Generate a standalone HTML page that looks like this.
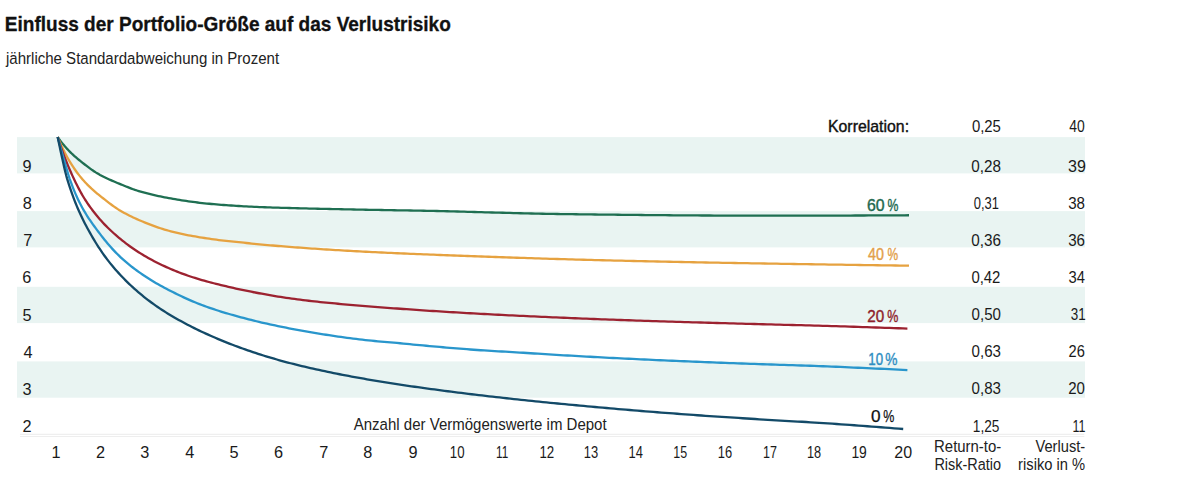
<!DOCTYPE html><html><head><meta charset="utf-8"><style>html,body{margin:0;padding:0;background:#fff;width:1200px;height:482px;overflow:hidden}svg{display:block}text{font-family:"Liberation Sans",sans-serif}</style></head><body>
<svg width="1200" height="482" viewBox="0 0 1200 482">
<rect x="17" y="137.10" width="1068" height="36.3" fill="#e9f4f2"/>
<rect x="17" y="211.10" width="1068" height="36.3" fill="#e9f4f2"/>
<rect x="17" y="286.80" width="1068" height="36.3" fill="#e9f4f2"/>
<rect x="17" y="361.40" width="1068" height="36.3" fill="#e9f4f2"/>
<rect x="20" y="433.8" width="1064.3" height="0.9" fill="#e9e9e9"/>
<rect x="20" y="436.0" width="1064.3" height="0.9" fill="#ececec"/>
<text x="4.84" y="30.80" font-size="19.80" fill="#111" textLength="445.99" lengthAdjust="spacingAndGlyphs" font-weight="bold" stroke="#111" stroke-width="0.3">Einfluss der Portfolio-Größe auf das Verlustrisiko</text>
<text x="6.00" y="64.40" font-size="16.80" fill="#222" textLength="273.06" lengthAdjust="spacingAndGlyphs">jährliche Standardabweichung in Prozent</text>
<text x="22.50" y="431.80" font-size="16.30" fill="#1a1a1a">2</text>
<text x="22.50" y="394.70" font-size="16.30" fill="#1a1a1a">3</text>
<text x="23.50" y="357.60" font-size="16.30" fill="#1a1a1a">4</text>
<text x="22.50" y="320.50" font-size="16.30" fill="#1a1a1a">5</text>
<text x="22.30" y="283.40" font-size="16.30" fill="#1a1a1a">6</text>
<text x="23.30" y="246.30" font-size="16.30" fill="#1a1a1a">7</text>
<text x="22.70" y="209.20" font-size="16.30" fill="#1a1a1a">8</text>
<text x="22.40" y="172.10" font-size="16.30" fill="#1a1a1a">9</text>
<text x="51.50" y="458.00" font-size="16.30" fill="#1a1a1a">1</text>
<text x="96.12" y="458.00" font-size="16.30" fill="#1a1a1a">2</text>
<text x="140.23" y="458.00" font-size="16.30" fill="#1a1a1a">3</text>
<text x="185.35" y="458.00" font-size="16.30" fill="#1a1a1a">4</text>
<text x="229.46" y="458.00" font-size="16.30" fill="#1a1a1a">5</text>
<text x="274.08" y="458.00" font-size="16.30" fill="#1a1a1a">6</text>
<text x="319.19" y="458.00" font-size="16.30" fill="#1a1a1a">7</text>
<text x="363.31" y="458.00" font-size="16.30" fill="#1a1a1a">8</text>
<text x="408.43" y="458.00" font-size="16.30" fill="#1a1a1a">9</text>
<text x="449.83" y="458.00" font-size="16.30" fill="#1a1a1a" textLength="14.71" lengthAdjust="spacingAndGlyphs">10</text>
<text x="496.04" y="458.00" font-size="16.30" fill="#1a1a1a" textLength="12.17" lengthAdjust="spacingAndGlyphs">11</text>
<text x="539.40" y="458.00" font-size="16.30" fill="#1a1a1a" textLength="14.84" lengthAdjust="spacingAndGlyphs">12</text>
<text x="583.85" y="458.00" font-size="16.30" fill="#1a1a1a" textLength="14.39" lengthAdjust="spacingAndGlyphs">13</text>
<text x="628.46" y="458.00" font-size="16.30" fill="#1a1a1a" textLength="14.39" lengthAdjust="spacingAndGlyphs">14</text>
<text x="673.36" y="458.00" font-size="16.30" fill="#1a1a1a" textLength="13.86" lengthAdjust="spacingAndGlyphs">15</text>
<text x="717.69" y="458.00" font-size="16.30" fill="#1a1a1a" textLength="14.39" lengthAdjust="spacingAndGlyphs">16</text>
<text x="762.93" y="458.00" font-size="16.30" fill="#1a1a1a" textLength="13.93" lengthAdjust="spacingAndGlyphs">17</text>
<text x="807.04" y="458.00" font-size="16.30" fill="#1a1a1a" textLength="14.18" lengthAdjust="spacingAndGlyphs">18</text>
<text x="851.43" y="458.00" font-size="16.30" fill="#1a1a1a" textLength="15.41" lengthAdjust="spacingAndGlyphs">19</text>
<text x="894.37" y="458.00" font-size="16.30" fill="#1a1a1a" textLength="17.81" lengthAdjust="spacingAndGlyphs">20</text>
<text x="353.75" y="429.70" font-size="16.90" fill="#222" textLength="252.87" lengthAdjust="spacingAndGlyphs">Anzahl der Vermögenswerte im Depot</text>
<text x="827.97" y="132.20" font-size="17.00" fill="#111" textLength="81.11" lengthAdjust="spacingAndGlyphs" stroke="#111" stroke-width="0.4">Korrelation:</text>
<text x="971.88" y="132.10" font-size="16.30" fill="#1a1a1a" textLength="29.06" lengthAdjust="spacingAndGlyphs">0,25</text>
<text x="1069.30" y="132.10" font-size="16.30" fill="#1a1a1a" textLength="15.51" lengthAdjust="spacingAndGlyphs">40</text>
<text x="971.36" y="171.90" font-size="16.30" fill="#1a1a1a" textLength="29.70" lengthAdjust="spacingAndGlyphs">0,28</text>
<text x="1068.11" y="171.90" font-size="16.30" fill="#1a1a1a" textLength="17.90" lengthAdjust="spacingAndGlyphs">39</text>
<text x="973.81" y="208.99" font-size="16.30" fill="#1a1a1a" textLength="25.15" lengthAdjust="spacingAndGlyphs">0,31</text>
<text x="1068.17" y="208.99" font-size="16.30" fill="#1a1a1a" textLength="16.85" lengthAdjust="spacingAndGlyphs">38</text>
<text x="971.36" y="246.08" font-size="16.30" fill="#1a1a1a" textLength="29.70" lengthAdjust="spacingAndGlyphs">0,36</text>
<text x="1068.17" y="246.08" font-size="16.30" fill="#1a1a1a" textLength="16.85" lengthAdjust="spacingAndGlyphs">36</text>
<text x="971.38" y="283.17" font-size="16.30" fill="#1a1a1a" textLength="29.06" lengthAdjust="spacingAndGlyphs">0,42</text>
<text x="1068.59" y="283.17" font-size="16.30" fill="#1a1a1a" textLength="16.42" lengthAdjust="spacingAndGlyphs">34</text>
<text x="971.57" y="320.26" font-size="16.30" fill="#1a1a1a" textLength="29.38" lengthAdjust="spacingAndGlyphs">0,50</text>
<text x="1070.77" y="320.26" font-size="16.30" fill="#1a1a1a" textLength="14.95" lengthAdjust="spacingAndGlyphs">31</text>
<text x="971.57" y="357.35" font-size="16.30" fill="#1a1a1a" textLength="29.38" lengthAdjust="spacingAndGlyphs">0,63</text>
<text x="1068.60" y="357.35" font-size="16.30" fill="#1a1a1a" textLength="16.31" lengthAdjust="spacingAndGlyphs">26</text>
<text x="971.57" y="394.44" font-size="16.30" fill="#1a1a1a" textLength="29.38" lengthAdjust="spacingAndGlyphs">0,83</text>
<text x="1068.18" y="394.44" font-size="16.30" fill="#1a1a1a" textLength="16.74" lengthAdjust="spacingAndGlyphs">20</text>
<text x="972.86" y="431.53" font-size="16.30" fill="#1a1a1a" textLength="26.63" lengthAdjust="spacingAndGlyphs">1,25</text>
<text x="1072.53" y="431.53" font-size="16.30" fill="#1a1a1a" textLength="12.96" lengthAdjust="spacingAndGlyphs">11</text>
<text x="934.08" y="452.00" font-size="16.30" fill="#222" textLength="67.19" lengthAdjust="spacingAndGlyphs">Return-to-</text>
<text x="934.41" y="469.70" font-size="16.30" fill="#222" textLength="66.67" lengthAdjust="spacingAndGlyphs">Risk-Ratio</text>
<text x="1035.50" y="452.00" font-size="16.30" fill="#222" textLength="49.68" lengthAdjust="spacingAndGlyphs">Verlust-</text>
<text x="1018.10" y="469.70" font-size="16.30" fill="#222" textLength="67.09" lengthAdjust="spacingAndGlyphs">risiko in %</text>
<path d="M57.70,137.00 L57.79,137.14 L57.98,137.41 L58.24,137.79 L58.55,138.24 L58.92,138.76 L59.33,139.34 L59.78,139.97 L60.28,140.64 L60.82,141.36 L61.39,142.11 L61.99,142.88 L62.64,143.69 L63.31,144.51 L64.02,145.36 L64.75,146.22 L65.52,147.10 L66.32,147.99 L67.14,148.89 L68.00,149.80 L68.88,150.72 L69.78,151.64 L70.72,152.56 L71.68,153.49 L72.66,154.41 L73.67,155.34 L74.71,156.27 L75.77,157.20 L76.85,158.13 L77.95,159.06 L79.08,159.99 L80.24,160.91 L81.41,161.85 L82.61,162.80 L83.82,163.76 L85.07,164.73 L86.33,165.71 L87.61,166.69 L88.91,167.67 L90.24,168.64 L91.58,169.60 L92.95,170.55 L94.33,171.48 L95.74,172.39 L97.17,173.26 L98.61,174.10 L100.07,174.92 L101.56,175.71 L103.06,176.49 L104.58,177.25 L106.12,178.00 L107.68,178.73 L109.26,179.45 L110.85,180.16 L112.47,180.86 L114.10,181.56 L115.75,182.25 L117.42,182.94 L119.10,183.63 L120.80,184.33 L122.52,185.05 L124.26,185.76 L126.01,186.48 L127.79,187.19 L129.57,187.89 L131.38,188.58 L133.20,189.25 L135.04,189.89 L136.90,190.49 L138.77,191.06 L140.66,191.61 L142.56,192.15 L144.48,192.67 L146.42,193.19 L148.37,193.69 L150.34,194.18 L152.32,194.66 L154.32,195.13 L156.34,195.58 L158.37,196.03 L160.41,196.46 L162.48,196.89 L164.55,197.30 L166.65,197.70 L168.75,198.09 L170.88,198.48 L173.02,198.85 L175.17,199.22 L177.34,199.59 L179.52,199.94 L181.72,200.29 L183.93,200.64 L186.15,200.97 L188.40,201.29 L190.65,201.61 L192.92,201.92 L195.21,202.21 L197.51,202.50 L199.82,202.77 L202.15,203.03 L204.49,203.28 L206.84,203.53 L209.21,203.76 L211.60,203.98 L213.99,204.20 L216.41,204.41 L218.83,204.61 L221.27,204.80 L223.72,204.99 L226.19,205.17 L228.67,205.35 L231.16,205.52 L233.67,205.69 L236.19,205.85 L238.72,206.01 L241.27,206.17 L243.83,206.32 L246.41,206.46 L248.99,206.60 L251.59,206.72 L254.21,206.84 L256.83,206.95 L259.47,207.06 L262.13,207.16 L264.79,207.26 L267.47,207.35 L270.16,207.44 L272.87,207.53 L275.58,207.61 L278.31,207.70 L281.06,207.78 L283.81,207.86 L286.58,207.94 L289.36,208.02 L292.15,208.10 L294.96,208.18 L297.78,208.26 L300.61,208.33 L303.45,208.40 L306.31,208.47 L309.17,208.54 L312.05,208.60 L314.95,208.66 L317.85,208.73 L320.77,208.79 L323.70,208.85 L326.64,208.92 L329.59,208.98 L332.56,209.05 L335.53,209.11 L338.52,209.18 L341.53,209.25 L344.54,209.32 L347.56,209.38 L350.60,209.45 L353.65,209.51 L356.71,209.57 L359.78,209.63 L362.87,209.69 L365.96,209.75 L369.07,209.80 L372.19,209.86 L375.32,209.91 L378.47,209.96 L381.62,210.02 L384.79,210.07 L387.96,210.12 L391.15,210.18 L394.35,210.23 L397.57,210.28 L400.79,210.34 L404.02,210.39 L407.27,210.45 L410.53,210.50 L413.80,210.56 L417.08,210.62 L420.37,210.68 L423.67,210.75 L426.98,210.81 L430.31,210.88 L433.65,210.95 L436.99,211.02 L440.35,211.10 L443.72,211.18 L447.10,211.26 L450.49,211.34 L453.90,211.43 L457.31,211.52 L460.73,211.61 L464.17,211.70 L467.62,211.79 L471.07,211.89 L474.54,211.99 L478.02,212.08 L481.51,212.18 L485.01,212.28 L488.52,212.38 L492.04,212.48 L495.58,212.58 L499.12,212.68 L502.68,212.77 L506.24,212.87 L509.82,212.97 L513.40,213.06 L517.00,213.16 L520.61,213.25 L524.23,213.34 L527.86,213.43 L531.49,213.51 L535.14,213.59 L538.80,213.67 L542.48,213.75 L546.16,213.82 L549.85,213.88 L553.55,213.95 L557.26,214.01 L560.99,214.06 L564.72,214.11 L568.46,214.16 L572.22,214.21 L575.98,214.26 L579.76,214.31 L583.54,214.36 L587.33,214.41 L591.14,214.45 L594.96,214.50 L598.78,214.54 L602.62,214.59 L606.46,214.63 L610.32,214.68 L614.18,214.72 L618.06,214.76 L621.95,214.80 L625.84,214.84 L629.75,214.88 L633.67,214.92 L637.59,214.96 L641.53,215.00 L645.48,215.03 L649.43,215.07 L653.40,215.11 L657.37,215.14 L661.36,215.18 L665.36,215.21 L669.36,215.25 L673.38,215.28 L677.40,215.31 L681.44,215.35 L685.49,215.38 L689.54,215.40 L693.61,215.43 L697.68,215.45 L701.76,215.48 L705.86,215.50 L709.96,215.51 L714.08,215.53 L718.20,215.55 L722.33,215.56 L726.48,215.57 L730.63,215.58 L734.79,215.59 L738.96,215.60 L743.14,215.61 L747.33,215.61 L751.53,215.62 L755.74,215.62 L759.96,215.62 L764.19,215.63 L768.43,215.63 L772.68,215.63 L776.93,215.63 L781.20,215.63 L785.48,215.63 L789.76,215.63 L794.06,215.63 L798.36,215.63 L802.68,215.63 L807.00,215.63 L811.33,215.62 L815.68,215.62 L820.03,215.61 L824.39,215.60 L828.76,215.59 L833.14,215.58 L837.53,215.57 L841.92,215.56 L846.33,215.55 L850.75,215.53 L855.17,215.52 L859.61,215.50 L864.05,215.48 L868.51,215.47 L872.97,215.45 L877.44,215.43 L881.92,215.40 L886.41,215.38 L890.91,215.36 L895.42,215.34 L899.94,215.31 L904.46,215.29 L909.00,215.26" fill="none" stroke="#1f6f52" stroke-width="2.3" stroke-linejoin="round"/>
<path d="M57.70,137.00 L57.79,137.23 L57.98,137.70 L58.24,138.33 L58.55,139.10 L58.92,139.98 L59.33,140.95 L59.78,142.02 L60.28,143.16 L60.82,144.36 L61.39,145.62 L61.99,146.94 L62.64,148.30 L63.31,149.69 L64.02,151.12 L64.75,152.58 L65.52,154.05 L66.32,155.55 L67.14,157.06 L68.00,158.57 L68.88,160.10 L69.78,161.63 L70.72,163.16 L71.68,164.69 L72.66,166.21 L73.67,167.73 L74.71,169.24 L75.77,170.74 L76.85,172.23 L77.95,173.71 L79.08,175.17 L80.24,176.62 L81.41,178.05 L82.61,179.46 L83.82,180.84 L85.07,182.21 L86.33,183.55 L87.61,184.87 L88.91,186.16 L90.24,187.44 L91.58,188.70 L92.95,189.93 L94.33,191.15 L95.74,192.36 L97.17,193.55 L98.61,194.72 L100.07,195.89 L101.56,197.06 L103.06,198.24 L104.58,199.44 L106.12,200.65 L107.68,201.87 L109.26,203.08 L110.85,204.28 L112.47,205.47 L114.10,206.64 L115.75,207.78 L117.42,208.89 L119.10,209.95 L120.80,210.96 L122.52,211.95 L124.26,212.91 L126.01,213.86 L127.79,214.78 L129.57,215.68 L131.38,216.57 L133.20,217.44 L135.04,218.29 L136.90,219.13 L138.77,219.95 L140.66,220.76 L142.56,221.56 L144.48,222.36 L146.42,223.14 L148.37,223.91 L150.34,224.66 L152.32,225.41 L154.32,226.14 L156.34,226.85 L158.37,227.55 L160.41,228.23 L162.48,228.90 L164.55,229.54 L166.65,230.16 L168.75,230.76 L170.88,231.33 L173.02,231.89 L175.17,232.42 L177.34,232.94 L179.52,233.43 L181.72,233.91 L183.93,234.38 L186.15,234.83 L188.40,235.26 L190.65,235.68 L192.92,236.09 L195.21,236.49 L197.51,236.88 L199.82,237.26 L202.15,237.63 L204.49,237.99 L206.84,238.35 L209.21,238.70 L211.60,239.05 L213.99,239.39 L216.41,239.71 L218.83,240.02 L221.27,240.32 L223.72,240.61 L226.19,240.89 L228.67,241.16 L231.16,241.43 L233.67,241.69 L236.19,241.95 L238.72,242.21 L241.27,242.47 L243.83,242.73 L246.41,242.99 L248.99,243.25 L251.59,243.52 L254.21,243.78 L256.83,244.04 L259.47,244.30 L262.13,244.55 L264.79,244.80 L267.47,245.04 L270.16,245.28 L272.87,245.52 L275.58,245.76 L278.31,245.99 L281.06,246.21 L283.81,246.44 L286.58,246.66 L289.36,246.88 L292.15,247.09 L294.96,247.31 L297.78,247.52 L300.61,247.72 L303.45,247.93 L306.31,248.13 L309.17,248.33 L312.05,248.53 L314.95,248.72 L317.85,248.91 L320.77,249.11 L323.70,249.29 L326.64,249.48 L329.59,249.67 L332.56,249.85 L335.53,250.03 L338.52,250.21 L341.53,250.39 L344.54,250.56 L347.56,250.74 L350.60,250.91 L353.65,251.08 L356.71,251.25 L359.78,251.42 L362.87,251.58 L365.96,251.74 L369.07,251.90 L372.19,252.06 L375.32,252.21 L378.47,252.36 L381.62,252.51 L384.79,252.66 L387.96,252.81 L391.15,252.95 L394.35,253.10 L397.57,253.24 L400.79,253.38 L404.02,253.52 L407.27,253.66 L410.53,253.79 L413.80,253.93 L417.08,254.06 L420.37,254.20 L423.67,254.33 L426.98,254.46 L430.31,254.59 L433.65,254.72 L436.99,254.85 L440.35,254.98 L443.72,255.11 L447.10,255.24 L450.49,255.37 L453.90,255.50 L457.31,255.63 L460.73,255.75 L464.17,255.88 L467.62,256.01 L471.07,256.13 L474.54,256.26 L478.02,256.39 L481.51,256.51 L485.01,256.64 L488.52,256.76 L492.04,256.88 L495.58,257.01 L499.12,257.13 L502.68,257.25 L506.24,257.37 L509.82,257.49 L513.40,257.62 L517.00,257.73 L520.61,257.85 L524.23,257.97 L527.86,258.09 L531.49,258.21 L535.14,258.32 L538.80,258.44 L542.48,258.55 L546.16,258.67 L549.85,258.78 L553.55,258.89 L557.26,259.00 L560.99,259.11 L564.72,259.22 L568.46,259.33 L572.22,259.44 L575.98,259.54 L579.76,259.65 L583.54,259.75 L587.33,259.85 L591.14,259.95 L594.96,260.05 L598.78,260.15 L602.62,260.25 L606.46,260.34 L610.32,260.44 L614.18,260.53 L618.06,260.62 L621.95,260.72 L625.84,260.81 L629.75,260.90 L633.67,260.99 L637.59,261.08 L641.53,261.16 L645.48,261.25 L649.43,261.34 L653.40,261.42 L657.37,261.51 L661.36,261.59 L665.36,261.67 L669.36,261.76 L673.38,261.84 L677.40,261.92 L681.44,262.00 L685.49,262.08 L689.54,262.16 L693.61,262.24 L697.68,262.32 L701.76,262.40 L705.86,262.48 L709.96,262.55 L714.08,262.63 L718.20,262.70 L722.33,262.78 L726.48,262.85 L730.63,262.93 L734.79,263.00 L738.96,263.08 L743.14,263.15 L747.33,263.22 L751.53,263.29 L755.74,263.36 L759.96,263.44 L764.19,263.51 L768.43,263.58 L772.68,263.65 L776.93,263.72 L781.20,263.79 L785.48,263.85 L789.76,263.92 L794.06,263.99 L798.36,264.06 L802.68,264.13 L807.00,264.19 L811.33,264.26 L815.68,264.33 L820.03,264.39 L824.39,264.46 L828.76,264.53 L833.14,264.59 L837.53,264.66 L841.92,264.72 L846.33,264.79 L850.75,264.85 L855.17,264.92 L859.61,264.98 L864.05,265.04 L868.51,265.11 L872.97,265.17 L877.44,265.23 L881.92,265.30 L886.41,265.36 L890.91,265.42 L895.42,265.48 L899.94,265.54 L904.46,265.60 L909.00,265.67" fill="none" stroke="#e6a240" stroke-width="2.3" stroke-linejoin="round"/>
<path d="M57.70,137.00 L57.79,137.30 L57.98,137.91 L58.24,138.73 L58.55,139.72 L58.91,140.86 L59.33,142.14 L59.78,143.53 L60.28,145.02 L60.81,146.60 L61.38,148.27 L61.99,150.00 L62.63,151.80 L63.30,153.65 L64.00,155.55 L64.74,157.49 L65.51,159.47 L66.30,161.48 L67.13,163.52 L67.98,165.58 L68.86,167.65 L69.76,169.74 L70.69,171.84 L71.65,173.96 L72.64,176.11 L73.64,178.27 L74.68,180.45 L75.73,182.63 L76.81,184.81 L77.92,186.98 L79.04,189.14 L80.19,191.29 L81.37,193.40 L82.56,195.48 L83.78,197.51 L85.01,199.50 L86.27,201.43 L87.55,203.35 L88.85,205.24 L90.18,207.11 L91.52,208.94 L92.88,210.76 L94.27,212.54 L95.67,214.31 L97.09,216.04 L98.53,217.75 L99.99,219.43 L101.48,221.09 L102.97,222.73 L104.49,224.34 L106.03,225.92 L107.59,227.48 L109.16,229.02 L110.75,230.54 L112.36,232.03 L113.99,233.50 L115.64,234.96 L117.30,236.39 L118.99,237.81 L120.68,239.21 L122.40,240.60 L124.14,241.96 L125.89,243.31 L127.65,244.64 L129.44,245.95 L131.24,247.24 L133.06,248.51 L134.90,249.76 L136.75,251.00 L138.62,252.21 L140.50,253.40 L142.40,254.58 L144.32,255.73 L146.25,256.86 L148.20,257.96 L150.16,259.05 L152.14,260.11 L154.14,261.16 L156.15,262.19 L158.18,263.20 L160.22,264.20 L162.28,265.19 L164.35,266.16 L166.44,267.11 L168.55,268.05 L170.66,268.97 L172.80,269.87 L174.95,270.76 L177.11,271.63 L179.29,272.48 L181.48,273.32 L183.69,274.13 L185.91,274.94 L188.15,275.72 L190.40,276.48 L192.67,277.23 L194.95,277.96 L197.24,278.67 L199.55,279.37 L201.87,280.05 L204.21,280.71 L206.56,281.37 L208.93,282.01 L211.31,282.63 L213.70,283.25 L216.11,283.86 L218.53,284.46 L220.96,285.06 L223.41,285.65 L225.87,286.23 L228.35,286.81 L230.84,287.39 L233.34,287.96 L235.85,288.52 L238.38,289.07 L240.93,289.62 L243.48,290.16 L246.05,290.70 L248.63,291.22 L251.23,291.74 L253.84,292.25 L256.46,292.75 L259.09,293.25 L261.74,293.74 L264.40,294.22 L267.08,294.69 L269.76,295.16 L272.46,295.62 L275.17,296.07 L277.90,296.52 L280.64,296.96 L283.39,297.38 L286.15,297.80 L288.92,298.20 L291.71,298.60 L294.51,298.98 L297.33,299.35 L300.15,299.72 L302.99,300.07 L305.84,300.42 L308.70,300.76 L311.58,301.09 L314.46,301.41 L317.36,301.72 L320.27,302.03 L323.20,302.33 L326.13,302.63 L329.08,302.92 L332.04,303.20 L335.01,303.48 L338.00,303.76 L340.99,304.03 L344.00,304.30 L347.02,304.57 L350.05,304.83 L353.09,305.10 L356.15,305.36 L359.22,305.62 L362.30,305.88 L365.39,306.13 L368.49,306.38 L371.60,306.63 L374.73,306.87 L377.86,307.11 L381.01,307.34 L384.17,307.58 L387.34,307.81 L390.53,308.04 L393.72,308.28 L396.93,308.51 L400.14,308.74 L403.37,308.98 L406.61,309.21 L409.86,309.44 L413.13,309.67 L416.40,309.90 L419.69,310.12 L422.98,310.34 L426.29,310.56 L429.61,310.78 L432.94,310.99 L436.28,311.21 L439.63,311.42 L442.99,311.63 L446.37,311.84 L449.75,312.04 L453.15,312.25 L456.56,312.45 L459.98,312.65 L463.41,312.85 L466.85,313.05 L470.30,313.24 L473.76,313.44 L477.23,313.63 L480.71,313.82 L484.21,314.01 L487.71,314.20 L491.23,314.38 L494.75,314.56 L498.29,314.75 L501.84,314.92 L505.40,315.10 L508.97,315.28 L512.55,315.45 L516.14,315.62 L519.74,315.79 L523.35,315.96 L526.97,316.13 L530.60,316.30 L534.25,316.46 L537.90,316.63 L541.56,316.79 L545.24,316.96 L548.92,317.12 L552.62,317.28 L556.32,317.44 L560.04,317.61 L563.77,317.77 L567.50,317.93 L571.25,318.08 L575.01,318.24 L578.77,318.39 L582.55,318.55 L586.34,318.70 L590.14,318.85 L593.95,319.00 L597.76,319.14 L601.59,319.29 L605.43,319.43 L609.28,319.57 L613.14,319.72 L617.01,319.86 L620.89,320.00 L624.78,320.13 L628.67,320.27 L632.58,320.40 L636.50,320.54 L640.43,320.67 L644.37,320.80 L648.32,320.93 L652.28,321.06 L656.25,321.19 L660.23,321.31 L664.22,321.44 L668.21,321.56 L672.22,321.69 L676.24,321.81 L680.27,321.93 L684.31,322.05 L688.35,322.17 L692.41,322.29 L696.48,322.41 L700.55,322.52 L704.64,322.64 L708.74,322.76 L712.84,322.87 L716.96,322.99 L721.08,323.11 L725.22,323.22 L729.36,323.34 L733.52,323.45 L737.68,323.56 L741.85,323.68 L746.04,323.79 L750.23,323.90 L754.43,324.01 L758.64,324.12 L762.86,324.23 L767.09,324.35 L771.33,324.45 L775.58,324.56 L779.84,324.67 L784.11,324.78 L788.39,324.89 L792.67,325.00 L796.97,325.10 L801.28,325.21 L805.59,325.32 L809.92,325.43 L814.25,325.55 L818.59,325.67 L822.95,325.80 L827.31,325.92 L831.68,326.05 L836.06,326.18 L840.45,326.32 L844.85,326.46 L849.26,326.60 L853.68,326.74 L858.10,326.88 L862.54,327.03 L866.98,327.18 L871.44,327.33 L875.90,327.48 L880.37,327.63 L884.85,327.78 L889.35,327.93 L893.85,328.09 L898.35,328.24 L902.87,328.40 L907.40,328.55" fill="none" stroke="#9c2230" stroke-width="2.3" stroke-linejoin="round"/>
<path d="M57.70,137.00 L57.79,137.36 L57.98,138.08 L58.24,139.06 L58.55,140.26 L58.91,141.64 L59.33,143.19 L59.78,144.88 L60.28,146.71 L60.81,148.66 L61.38,150.73 L61.99,152.89 L62.63,155.15 L63.30,157.49 L64.00,159.90 L64.74,162.42 L65.51,165.08 L66.30,167.85 L67.13,170.69 L67.98,173.54 L68.86,176.36 L69.76,179.06 L70.69,181.65 L71.65,184.22 L72.64,186.79 L73.64,189.33 L74.68,191.85 L75.73,194.34 L76.81,196.77 L77.92,199.15 L79.04,201.48 L80.19,203.76 L81.37,205.99 L82.56,208.18 L83.78,210.32 L85.01,212.42 L86.27,214.49 L87.55,216.51 L88.85,218.51 L90.18,220.47 L91.52,222.42 L92.88,224.34 L94.27,226.25 L95.67,228.16 L97.09,230.07 L98.53,231.99 L99.99,233.93 L101.48,235.86 L102.97,237.79 L104.49,239.69 L106.03,241.57 L107.59,243.43 L109.16,245.26 L110.75,247.07 L112.36,248.86 L113.99,250.61 L115.64,252.34 L117.30,254.03 L118.99,255.69 L120.68,257.31 L122.40,258.90 L124.14,260.46 L125.89,261.98 L127.65,263.47 L129.44,264.93 L131.24,266.37 L133.06,267.78 L134.90,269.16 L136.75,270.52 L138.62,271.86 L140.50,273.18 L142.40,274.49 L144.32,275.78 L146.25,277.06 L148.20,278.31 L150.16,279.55 L152.14,280.76 L154.14,281.96 L156.15,283.14 L158.18,284.30 L160.22,285.45 L162.28,286.58 L164.35,287.70 L166.44,288.80 L168.55,289.90 L170.66,290.99 L172.80,292.07 L174.95,293.14 L177.11,294.21 L179.29,295.27 L181.48,296.31 L183.69,297.35 L185.91,298.38 L188.15,299.38 L190.40,300.38 L192.67,301.35 L194.95,302.30 L197.24,303.23 L199.55,304.14 L201.87,305.02 L204.21,305.89 L206.56,306.74 L208.93,307.57 L211.31,308.39 L213.70,309.20 L216.11,309.99 L218.53,310.77 L220.96,311.53 L223.41,312.29 L225.87,313.03 L228.35,313.76 L230.84,314.48 L233.34,315.20 L235.85,315.90 L238.38,316.60 L240.93,317.29 L243.48,317.97 L246.05,318.65 L248.63,319.31 L251.23,319.97 L253.84,320.61 L256.46,321.25 L259.09,321.88 L261.74,322.51 L264.40,323.12 L267.08,323.73 L269.76,324.32 L272.46,324.91 L275.17,325.49 L277.90,326.07 L280.64,326.63 L283.39,327.19 L286.15,327.74 L288.92,328.28 L291.71,328.82 L294.51,329.35 L297.33,329.87 L300.15,330.39 L302.99,330.90 L305.84,331.41 L308.70,331.90 L311.58,332.39 L314.46,332.88 L317.36,333.36 L320.27,333.83 L323.20,334.29 L326.13,334.75 L329.08,335.20 L332.04,335.65 L335.01,336.09 L338.00,336.52 L340.99,336.94 L344.00,337.36 L347.02,337.78 L350.05,338.18 L353.09,338.58 L356.15,338.97 L359.22,339.36 L362.30,339.73 L365.39,340.08 L368.49,340.40 L371.60,340.71 L374.73,341.00 L377.86,341.28 L381.01,341.56 L384.17,341.83 L387.34,342.10 L390.53,342.37 L393.72,342.65 L396.93,342.95 L400.14,343.26 L403.37,343.57 L406.61,343.89 L409.86,344.21 L413.13,344.52 L416.40,344.83 L419.69,345.14 L422.98,345.45 L426.29,345.76 L429.61,346.07 L432.94,346.37 L436.28,346.67 L439.63,346.97 L442.99,347.26 L446.37,347.55 L449.75,347.84 L453.15,348.13 L456.56,348.41 L459.98,348.68 L463.41,348.95 L466.85,349.22 L470.30,349.48 L473.76,349.74 L477.23,349.99 L480.71,350.23 L484.21,350.46 L487.71,350.68 L491.23,350.89 L494.75,351.09 L498.29,351.29 L501.84,351.48 L505.40,351.68 L508.97,351.88 L512.55,352.09 L516.14,352.30 L519.74,352.54 L523.35,352.77 L526.97,353.01 L530.60,353.25 L534.25,353.48 L537.90,353.71 L541.56,353.94 L545.24,354.17 L548.92,354.40 L552.62,354.62 L556.32,354.84 L560.04,355.06 L563.77,355.28 L567.50,355.50 L571.25,355.71 L575.01,355.93 L578.77,356.14 L582.55,356.35 L586.34,356.56 L590.14,356.77 L593.95,356.98 L597.76,357.18 L601.59,357.39 L605.43,357.59 L609.28,357.79 L613.14,357.99 L617.01,358.18 L620.89,358.38 L624.78,358.57 L628.67,358.76 L632.58,358.95 L636.50,359.14 L640.43,359.33 L644.37,359.51 L648.32,359.69 L652.28,359.87 L656.25,360.05 L660.23,360.23 L664.22,360.41 L668.21,360.58 L672.22,360.76 L676.24,360.93 L680.27,361.10 L684.31,361.27 L688.35,361.44 L692.41,361.61 L696.48,361.77 L700.55,361.93 L704.64,362.10 L708.74,362.26 L712.84,362.42 L716.96,362.58 L721.08,362.73 L725.22,362.89 L729.36,363.04 L733.52,363.20 L737.68,363.35 L741.85,363.50 L746.04,363.65 L750.23,363.80 L754.43,363.94 L758.64,364.09 L762.86,364.24 L767.09,364.38 L771.33,364.52 L775.58,364.66 L779.84,364.80 L784.11,364.94 L788.39,365.08 L792.67,365.22 L796.97,365.35 L801.28,365.49 L805.59,365.63 L809.92,365.77 L814.25,365.93 L818.59,366.09 L822.95,366.25 L827.31,366.42 L831.68,366.59 L836.06,366.77 L840.45,366.96 L844.85,367.14 L849.26,367.34 L853.68,367.53 L858.10,367.73 L862.54,367.93 L866.98,368.13 L871.44,368.34 L875.90,368.55 L880.37,368.76 L884.85,368.97 L889.35,369.18 L893.85,369.39 L898.35,369.61 L902.87,369.82 L907.40,370.03" fill="none" stroke="#2996cc" stroke-width="2.3" stroke-linejoin="round"/>
<path d="M57.70,137.00 L57.79,137.46 L57.98,138.40 L58.23,139.66 L58.55,141.20 L58.91,142.97 L59.32,144.94 L59.77,147.10 L60.26,149.42 L60.79,151.89 L61.36,154.49 L61.97,157.21 L62.60,160.03 L63.27,163.01 L63.97,166.14 L64.71,169.37 L65.47,172.60 L66.26,175.72 L67.08,178.60 L67.93,181.35 L68.80,184.11 L69.70,186.87 L70.63,189.63 L71.58,192.39 L72.56,195.13 L73.56,197.85 L74.59,200.54 L75.64,203.21 L76.72,205.84 L77.82,208.45 L78.94,211.02 L80.08,213.56 L81.25,216.07 L82.44,218.55 L83.65,221.00 L84.88,223.42 L86.13,225.82 L87.41,228.20 L88.70,230.57 L90.02,232.92 L91.35,235.26 L92.71,237.60 L94.08,239.92 L95.48,242.23 L96.90,244.51 L98.33,246.76 L99.79,248.98 L101.26,251.18 L102.75,253.34 L104.26,255.47 L105.79,257.55 L107.34,259.60 L108.91,261.62 L110.49,263.61 L112.09,265.56 L113.71,267.48 L115.35,269.38 L117.01,271.26 L118.68,273.11 L120.37,274.95 L122.08,276.76 L123.81,278.56 L125.55,280.33 L127.31,282.08 L129.09,283.80 L130.88,285.50 L132.69,287.18 L134.51,288.83 L136.36,290.47 L138.22,292.08 L140.09,293.66 L141.98,295.23 L143.89,296.78 L145.81,298.30 L147.75,299.80 L149.71,301.29 L151.68,302.75 L153.66,304.19 L155.67,305.60 L157.68,307.00 L159.71,308.38 L161.76,309.74 L163.83,311.07 L165.90,312.39 L168.00,313.68 L170.11,314.96 L172.23,316.22 L174.37,317.46 L176.52,318.69 L178.69,319.91 L180.87,321.11 L183.07,322.30 L185.28,323.48 L187.51,324.65 L189.75,325.81 L192.00,326.96 L194.27,328.10 L196.55,329.23 L198.85,330.34 L201.16,331.43 L203.49,332.52 L205.83,333.59 L208.18,334.66 L210.55,335.71 L212.93,336.76 L215.32,337.79 L217.73,338.82 L220.16,339.84 L222.59,340.85 L225.04,341.85 L227.50,342.84 L229.98,343.81 L232.47,344.78 L234.97,345.73 L237.49,346.67 L240.02,347.60 L242.56,348.52 L245.12,349.43 L247.69,350.33 L250.27,351.21 L252.87,352.09 L255.48,352.95 L258.10,353.81 L260.73,354.65 L263.38,355.48 L266.04,356.31 L268.71,357.12 L271.40,357.92 L274.10,358.72 L276.81,359.50 L279.53,360.28 L282.27,361.04 L285.02,361.80 L287.78,362.53 L290.56,363.26 L293.34,363.98 L296.14,364.68 L298.95,365.37 L301.78,366.05 L304.61,366.73 L307.46,367.39 L310.32,368.05 L313.19,368.70 L316.08,369.35 L318.98,369.98 L321.89,370.62 L324.81,371.24 L327.74,371.86 L330.68,372.47 L333.64,373.07 L336.61,373.66 L339.59,374.25 L342.58,374.84 L345.59,375.41 L348.61,375.98 L351.63,376.54 L354.67,377.10 L357.73,377.65 L360.79,378.19 L363.86,378.73 L366.95,379.27 L370.05,379.79 L373.16,380.32 L376.28,380.83 L379.41,381.35 L382.56,381.86 L385.71,382.36 L388.88,382.86 L392.06,383.36 L395.25,383.85 L398.45,384.34 L401.66,384.83 L404.89,385.31 L408.12,385.79 L411.37,386.27 L414.63,386.74 L417.90,387.21 L421.18,387.67 L424.47,388.13 L427.77,388.58 L431.08,389.03 L434.41,389.48 L437.74,389.93 L441.09,390.37 L444.45,390.81 L447.82,391.25 L451.20,391.68 L454.59,392.12 L457.99,392.55 L461.40,392.97 L464.82,393.40 L468.26,393.82 L471.70,394.24 L475.16,394.65 L478.62,395.06 L482.10,395.47 L485.59,395.88 L489.09,396.28 L492.59,396.68 L496.11,397.08 L499.64,397.48 L503.19,397.87 L506.74,398.26 L510.30,398.65 L513.87,399.04 L517.45,399.43 L521.05,399.81 L524.65,400.19 L528.27,400.57 L531.89,400.95 L535.53,401.32 L539.17,401.69 L542.83,402.06 L546.50,402.42 L550.17,402.79 L553.86,403.15 L557.56,403.51 L561.26,403.86 L564.98,404.22 L568.71,404.57 L572.45,404.92 L576.20,405.27 L579.96,405.62 L583.73,405.97 L587.51,406.31 L591.29,406.66 L595.09,407.00 L598.90,407.34 L602.72,407.68 L606.55,408.02 L610.39,408.36 L614.24,408.69 L618.10,409.03 L621.97,409.36 L625.85,409.69 L629.74,410.01 L633.64,410.34 L637.55,410.66 L641.47,410.98 L645.40,411.30 L649.34,411.62 L653.29,411.94 L657.25,412.25 L661.22,412.56 L665.20,412.87 L669.18,413.17 L673.18,413.47 L677.19,413.77 L681.21,414.07 L685.24,414.37 L689.27,414.66 L693.32,414.95 L697.38,415.23 L701.44,415.51 L705.52,415.79 L709.60,416.07 L713.70,416.35 L717.80,416.62 L721.92,416.90 L726.04,417.17 L730.18,417.44 L734.32,417.71 L738.47,417.97 L742.63,418.24 L746.81,418.50 L750.99,418.76 L755.18,419.02 L759.38,419.28 L763.59,419.53 L767.81,419.79 L772.03,420.04 L776.27,420.29 L780.52,420.54 L784.78,420.79 L789.04,421.04 L793.32,421.28 L797.60,421.53 L801.90,421.77 L806.20,422.02 L810.51,422.28 L814.83,422.55 L819.16,422.82 L823.50,423.11 L827.85,423.40 L832.21,423.69 L836.58,423.99 L840.96,424.30 L845.35,424.61 L849.74,424.93 L854.15,425.25 L858.56,425.58 L862.98,425.91 L867.41,426.24 L871.86,426.58 L876.31,426.92 L880.77,427.26 L885.23,427.60 L889.71,427.95 L894.20,428.29 L898.70,428.63 L903.20,428.98" fill="none" stroke="#134a68" stroke-width="2.3" stroke-linejoin="round"/>
<text x="866.92" y="211.00" font-size="16.20" fill="#22694f" textLength="17.59" lengthAdjust="spacingAndGlyphs" stroke="#22694f" stroke-width="0.4">60</text>
<text x="887.45" y="211.00" font-size="16.20" fill="#22694f" textLength="10.86" lengthAdjust="spacingAndGlyphs" stroke="#22694f" stroke-width="0.4">%</text>
<text x="868.10" y="259.50" font-size="16.20" fill="#e2a04a" textLength="15.91" lengthAdjust="spacingAndGlyphs" stroke="#e2a04a" stroke-width="0.4">40</text>
<text x="887.46" y="259.50" font-size="16.20" fill="#e2a04a" textLength="10.64" lengthAdjust="spacingAndGlyphs" stroke="#e2a04a" stroke-width="0.4">%</text>
<text x="867.36" y="322.00" font-size="16.20" fill="#8f1f2c" textLength="16.96" lengthAdjust="spacingAndGlyphs" stroke="#8f1f2c" stroke-width="0.4">20</text>
<text x="887.23" y="322.00" font-size="16.20" fill="#8f1f2c" textLength="11.08" lengthAdjust="spacingAndGlyphs" stroke="#8f1f2c" stroke-width="0.4">%</text>
<text x="868.28" y="364.70" font-size="16.20" fill="#2f8ec2" textLength="14.73" lengthAdjust="spacingAndGlyphs" stroke="#2f8ec2" stroke-width="0.4">10</text>
<text x="885.15" y="364.70" font-size="16.20" fill="#2f8ec2" textLength="12.19" lengthAdjust="spacingAndGlyphs" stroke="#2f8ec2" stroke-width="0.4">%</text>
<text x="870.94" y="422.00" font-size="16.20" fill="#111" textLength="9.58" lengthAdjust="spacingAndGlyphs" stroke="#111" stroke-width="0.25">0</text>
<text x="883.23" y="422.00" font-size="16.20" fill="#111" textLength="11.08" lengthAdjust="spacingAndGlyphs" stroke="#111" stroke-width="0.25">%</text>
</svg></body></html>
